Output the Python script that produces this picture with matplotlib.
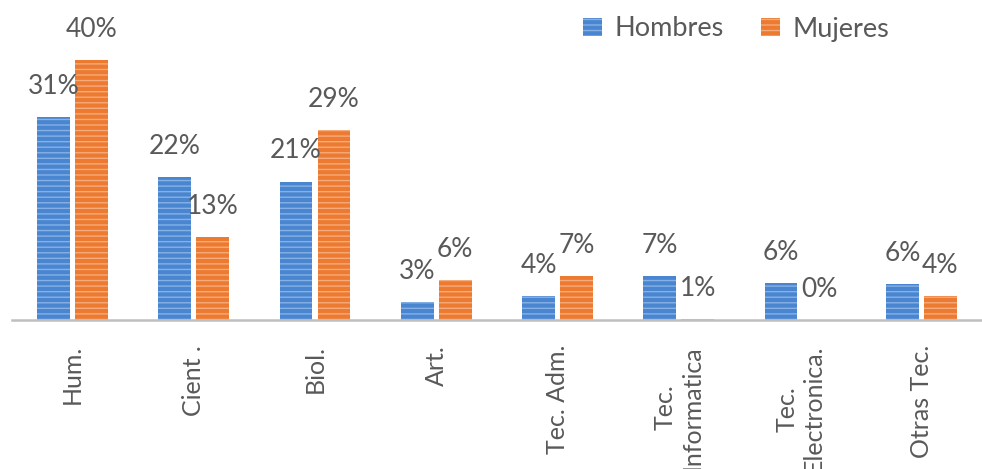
import numpy as np
import matplotlib
matplotlib.use('Agg')
import matplotlib.pyplot as plt
from matplotlib.patches import Patch

plt.rcParams['font.family'] = ['Lato', 'DejaVu Sans']
plt.rcParams['hatch.linewidth'] = 1.0

# Datos (porcentajes)
categorias = ['Hum.', 'Cient .', 'Biol.', 'Art.', 'Tec. Adm.',
              'Tec.\nInformatica', 'Tec.\nElectronica.', 'Otras Tec.']
hombres = [31.2, 22.0, 21.3, 2.8, 3.7, 6.8, 5.7, 5.5]
mujeres = [40.0, 12.8, 29.2, 6.1, 6.8, 0.2, 0.0, 3.7]
etiq_hombres = ['31%', '22%', '21%', '3%', '4%', '7%', '6%', '6%']
etiq_mujeres = ['40%', '13%', '29%', '6%', '7%', '1%', '0%', '4%']

azul, azul_claro = '#4a86d0', '#86b1e6'
naranja, naranja_claro = '#ec7a30', '#f6ab7c'
gris_texto = '#595959'

fig = plt.figure(figsize=(9.82, 4.69), dpi=100)
ax = fig.add_axes([0.012, 149 / 469, 0.988, 45 * 6.5 / 469])

x = np.arange(len(categorias))
ancho = 0.27
desp = 0.157

b1 = ax.bar(x - desp, hombres, ancho, color=azul, edgecolor=azul_claro,
            linewidth=0, hatch='---')
b2 = ax.bar(x + desp, mujeres, ancho, color=naranja, edgecolor=naranja_claro,
            linewidth=0, hatch='---')

# Etiquetas de datos
for barras, etiq in [(b1, etiq_hombres), (b2, etiq_mujeres)]:
    for rect, t in zip(barras, etiq):
        ax.annotate(t, (rect.get_x() + rect.get_width() / 2, rect.get_height()),
                    xytext=(0, 22), textcoords='offset points',
                    ha='center', va='center', fontsize=19, color=gris_texto)

ax.set_xlim(-0.5, len(categorias) - 0.5)
ax.set_ylim(0, 45)
ax.set_yticks([])
ax.set_xticks(x)
ax.set_xticklabels(categorias, rotation=90, fontsize=18, color=gris_texto,
                   ha='center', va='top')
ax.tick_params(axis='x', length=0, pad=18)
for s in ['top', 'right', 'left']:
    ax.spines[s].set_visible(False)
ax.spines['bottom'].set_color('#bfbfbf')
ax.spines['bottom'].set_linewidth(1.8)

handles = [Patch(facecolor=azul, edgecolor=azul_claro, linewidth=0, hatch='---', label='Hombres'),
           Patch(facecolor=naranja, edgecolor=naranja_claro, linewidth=0, hatch='---', label='Mujeres')]
fig.legend(handles=handles, loc='center', bbox_to_anchor=(736 / 982, 1 - 29 / 469),
           ncol=2, frameon=False, fontsize=19.5, labelcolor=gris_texto,
           handlelength=0.7, handleheight=0.7, handletextpad=0.45, columnspacing=1.4)

fig.savefig('out.png', dpi=100)
